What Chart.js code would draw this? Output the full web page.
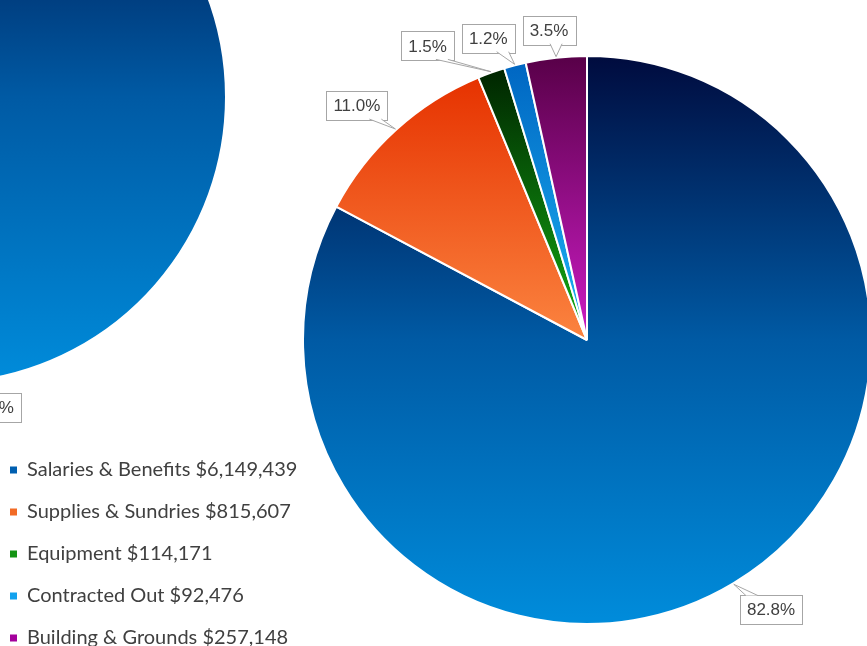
<!DOCTYPE html>
<html>
<head>
<meta charset="utf-8">
<script src="https://cdn.jsdelivr.net/npm/chart.js@4.4.0/dist/chart.umd.min.js"></script>
<style>
  html, body { margin: 0; padding: 0; background: #fff; overflow: hidden; width: 867px; height: 646px; }
  #leftChart { position: absolute; left: -410px; top: -253px; }
  #mainChart { position: absolute; left: 0; top: 0; }
</style>
</head>
<body>
<canvas id="leftChart" width="700" height="700"></canvas>
<canvas id="mainChart" width="867" height="670"></canvas>
<script>
// Categorias e valores do gráfico principal
const categories = ['Salaries & Benefits', 'Supplies & Sundries', 'Equipment', 'Contracted Out', 'Building & Grounds'];
const amounts = [6149439, 815607, 114171, 92476, 257148];
// Gráfico vizinho (cortado): só a fatia grande aparece (95.6%)
const leftShares = [95.6, 2.2, 0.7, 0.6, 0.9];

const topColors = ['#000b3e', '#e63200', '#002400', '#0066c2', '#580048'];
const bottomColors = ['#008cdb', '#fb8440', '#14b014', '#1cb4f4', '#cc1cc4'];
const legendColors = ['#005fb0', '#f26b25', '#149414', '#12a2ee', '#a4009c'];

function clamp(v, lo, hi) {
  return Math.max(lo, Math.min(hi, v));
}

// Gradiente vertical em cada fatia (topo -> base da própria fatia)
function sliceGradient(context) {
  const chart = context.chart;
  const area = chart.chartArea;
  const i = context.dataIndex;
  if (!area) return bottomColors[i];
  const data = context.dataset.data;
  const total = data.reduce((a, b) => a + b, 0);
  let cum = 0;
  for (let k = 0; k < i; k++) cum += data[k];
  const a0 = -Math.PI / 2 + 2 * Math.PI * cum / total;
  const a1 = a0 + 2 * Math.PI * data[i] / total;
  const cy = (area.top + area.bottom) / 2;
  const r = context.dataset.radius;
  let top = Math.min(cy, cy + r * Math.sin(a0), cy + r * Math.sin(a1));
  let bottom = Math.max(cy, cy + r * Math.sin(a0), cy + r * Math.sin(a1));
  [-Math.PI / 2, Math.PI / 2, 3 * Math.PI / 2].forEach(a => {
    if (a >= a0 && a <= a1) {
      top = Math.min(top, cy + r * Math.sin(a));
      bottom = Math.max(bottom, cy + r * Math.sin(a));
    }
  });
  const g = chart.ctx.createLinearGradient(0, top, 0, bottom);
  g.addColorStop(0, topColors[i]);
  if (i === 0) g.addColorStop(0.5, '#005aa4');
  g.addColorStop(1, bottomColors[i]);
  return g;
}

// Rótulos de percentagem em caixas com ponteiro
function drawCallout(ctx, b) {
  const l = b.x - b.w / 2, r = b.x + b.w / 2, t = b.y - b.h / 2, bt = b.y + b.h / 2;
  ctx.fillStyle = '#ffffff';
  ctx.strokeStyle = '#a6a6a6';
  ctx.lineWidth = 1;
  ctx.fillRect(l, t, b.w, b.h);
  ctx.strokeRect(Math.round(l) + 0.5, Math.round(t) + 0.5, Math.round(b.w), Math.round(b.h));
  let p1, p2;
  if (b.tipY > bt) {
    const c = clamp(b.tipX, l + 12, r - 12);
    p1 = [c - 6, bt - 1]; p2 = [c + 6, bt - 1];
  } else if (b.tipY < t) {
    const c = clamp(b.tipX, l + 12, r - 12);
    p1 = [c - 6, t + 1]; p2 = [c + 6, t + 1];
  } else if (b.tipX < l) {
    const c = clamp(b.tipY, t + 8, bt - 8);
    p1 = [l + 1, c - 5]; p2 = [l + 1, c + 5];
  } else {
    const c = clamp(b.tipY, t + 8, bt - 8);
    p1 = [r - 1, c - 5]; p2 = [r - 1, c + 5];
  }
  ctx.beginPath();
  ctx.moveTo(p1[0], p1[1]);
  ctx.lineTo(b.tipX, b.tipY);
  ctx.lineTo(p2[0], p2[1]);
  ctx.closePath();
  ctx.fill();
  ctx.beginPath();
  ctx.moveTo(p1[0], p1[1]);
  ctx.lineTo(b.tipX, b.tipY);
  ctx.lineTo(p2[0], p2[1]);
  ctx.stroke();
  ctx.fillStyle = '#404040';
  ctx.textAlign = 'center';
  ctx.textBaseline = 'middle';
  ctx.fillText(b.text, b.x, b.y + 1);
}

const calloutLabels = {
  id: 'calloutLabels',
  afterDatasetsDraw(chart) {
    const ctx = chart.ctx;
    const meta = chart.getDatasetMeta(0);
    const data = chart.data.datasets[0].data;
    const total = data.reduce((a, b) => a + b, 0);
    ctx.save();
    ctx.font = '17px "Liberation Sans", Arial, sans-serif';
    const boxes = [];
    for (let i = meta.data.length - 1; i >= 0; i--) {
      const p = meta.data[i].getProps(['x', 'y', 'startAngle', 'endAngle', 'outerRadius'], true);
      const mid = (p.startAngle + p.endAngle) / 2;
      const dx = Math.cos(mid), dy = Math.sin(mid);
      const tipX = p.x + (p.outerRadius + 1) * dx;
      const tipY = p.y + (p.outerRadius + 1) * dy;
      const text = (data[i] / total * 100).toFixed(1) + '%';
      const w = ctx.measureText(text).width + 14, h = 29;
      let bx = tipX + 12 * dx + w / 2 * clamp(2 * dx, -1, 1);
      const by = tipY + 12 * dy + h / 2 * clamp(2 * dy, -1, 1);
      boxes.forEach(o => {
        if (Math.abs(bx - o.x) < (w + o.w) / 2 && Math.abs(by - o.y) < (h + o.h) / 2) {
          bx = o.x - o.w / 2 - 8 - w / 2;
        }
      });
      boxes.push({ x: bx, y: by, w: w, h: h, tipX: tipX, tipY: tipY, text: text });
    }
    boxes.forEach(b => drawCallout(ctx, b));
    ctx.restore();
  }
};

// Gráfico da esquerda (cortado pela borda)
new Chart(document.getElementById('leftChart'), {
  type: 'pie',
  data: {
    labels: categories,
    datasets: [{
      data: leftShares,
      radius: 286,
      backgroundColor: sliceGradient,
      borderColor: '#ffffff',
      borderWidth: 2
    }]
  },
  options: {
    responsive: false,
    animation: false,
    devicePixelRatio: 1,
    plugins: { legend: { display: false }, tooltip: { enabled: false } }
  },
  plugins: [calloutLabels]
});

// Gráfico principal
const mainOptions = {
  responsive: false,
  animation: false,
  devicePixelRatio: 1,
  layout: { padding: { left: -12, top: 10, right: 0, bottom: 0 } },
  plugins: {
    tooltip: { enabled: false },
    legend: {
      position: 'left',
      align: 'end',
      labels: {
        boxWidth: 7,
        boxHeight: 7,
        padding: 22,
        color: '#404040',
        font: { family: 'Lato', size: 20 },
        generateLabels: function() {
          return categories.map((c, i) => ({
            text: c + ' $' + amounts[i].toLocaleString('en-US'),
            fillStyle: legendColors[i],
            strokeStyle: legendColors[i],
            lineWidth: 0,
            hidden: false,
            index: i,
            fontColor: '#404040'
          }));
        }
      }
    }
  }
};

const mainChart = new Chart(document.getElementById('mainChart'), {
  type: 'pie',
  data: {
    labels: categories,
    datasets: [{
      data: amounts,
      radius: 284,
      backgroundColor: sliceGradient,
      borderColor: '#ffffff',
      borderWidth: 2
    }]
  },
  options: mainOptions,
  plugins: [calloutLabels]
});

// centralizar a pizza em x = 587
mainOptions.layout.padding.right = mainChart.chartArea.left - 307;
mainChart.update();
</script>
</body>
</html>
